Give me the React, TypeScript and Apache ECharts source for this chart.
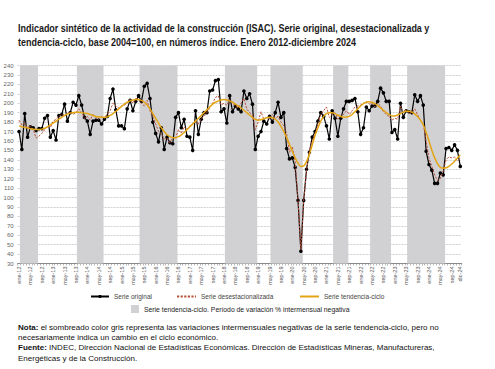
import React, { useEffect, useRef } from "react";
import * as echarts from "echarts";

const monthNames = ["ene", "feb", "mar", "abr", "may", "jun", "jul", "ago", "sep", "oct", "nov", "dic"];
const yearSuffixes = ["12", "13", "14", "15", "16", "17", "18", "19", "20", "21", "22", "23", "24"];
const categories: string[] = yearSuffixes.flatMap((y) => monthNames.map((m) => `${m}-${y}`));

// Serie original (2012-2024)
const original = [
  170, 151, 189, 164, 175, 174, 171, 173, 173, 184, 187, 164,
  171, 161, 187, 188, 199, 181, 190, 201, 198, 208, 198, 185,
  181, 167, 181, 182, 182, 178, 183, 186, 205, 215, 193, 176,
  176, 173, 194, 203, 192, 202, 208, 202, 218, 221, 205, 180,
  168, 159, 174, 151, 164, 158, 157, 185, 190, 174, 183, 165,
  164, 150, 192, 167, 183, 190, 190, 213, 214, 224, 225, 191,
  194, 179, 208, 191, 197, 194, 191, 213, 205, 210, 199, 151,
  165, 170, 181, 178, 186, 180, 190, 201, 185, 190, 152, 141,
  142, 132, 97, 43, 97, 130, 148, 164, 170, 181, 190, 186,
  176, 162, 192, 184, 165, 184, 194, 202, 202, 203, 205, 191,
  167, 174, 196, 192, 197, 197, 202, 216, 211, 202, 202, 169,
  172, 162, 200, 185, 192, 191, 190, 209, 202, 208, 198, 149,
  135, 129, 115, 115, 126, 124, 152, 153, 150, 156, 150, 133,
];

// Serie desestacionalizada
const deseasonalized = [
  182, 177, 179, 173, 176, 172, 163, 165, 168, 172, 176, 174,
  181, 183, 186, 188, 186, 189, 191, 188, 190, 194, 190, 184,
  186, 182, 188, 185, 183, 186, 184, 188, 192, 200, 197, 195,
  197, 198, 200, 204, 200, 205, 204, 200, 197, 203, 192, 186,
  178, 170, 168, 162, 163, 158, 164, 163, 172, 168, 175, 172,
  176, 178, 180, 178, 184, 186, 190, 195, 200, 206, 208, 198,
  200, 198, 204, 200, 197, 195, 200, 205, 194, 190, 188, 172,
  180, 191, 183, 185, 183, 188, 184, 186, 180, 176, 168, 148,
  154, 138, 98, 45, 98, 128, 150, 160, 168, 178, 188, 192,
  196, 185, 188, 190, 183, 186, 188, 192, 188, 192, 196, 197,
  198, 200, 202, 199, 200, 196, 200, 197, 191, 188, 186, 182,
  184, 183, 197, 190, 193, 189, 190, 194, 188, 182, 178, 160,
  142, 133, 124, 118, 120, 128, 140, 143, 142, 143, 139, 141,
];

// Serie tendencia-ciclo
const trendCycle = [
  176, 175, 174.5, 174, 173, 172.5, 172, 172, 172.5, 173.5, 175, 177,
  179, 181, 183, 185, 187, 188.5, 189.5, 190, 190.5, 190.5, 190, 189.5,
  189, 188, 187, 186, 185.5, 185, 185, 185.5, 187, 189, 191.5, 194,
  196.5, 199, 201, 202.5, 203.5, 204, 204, 203, 201, 198, 194, 189,
  184, 179, 174, 170, 166.5, 164.5, 163.5, 163.5, 164.5, 166.5, 169, 172,
  175, 178, 181, 184, 187, 190, 193, 196, 199, 201, 202.5, 203.5,
  204, 203.5, 202.5, 201, 199, 197, 195, 192.5, 190, 187.5, 185, 183,
  182, 182.5, 183.5, 184.5, 185, 184.5, 183, 180, 175.5, 170, 163.5, 156.5,
  149, 142, 136.5, 133, 133.5, 138, 146, 156, 166, 174, 181, 186,
  189, 190, 190, 189, 187.5, 186, 185.5, 185.5, 186, 188, 191, 194,
  197, 199.5, 201, 201.5, 201, 199.5, 197.5, 195, 192.5, 190, 188, 186.5,
  186.5, 187.5, 189, 190.5, 191.5, 191.5, 190.5, 188.5, 186, 182, 177, 169,
  160, 150, 142, 136, 132, 131, 131.5, 133, 135.5, 138.5, 142, 145,
];

// Períodos de variación % intermensual negativa de la tendencia-ciclo
const negativePeriods: [string, string][] = [
  ["feb-12", "jul-12"],
  ["oct-13", "jun-14"],
  ["ago-15", "ago-16"],
  ["feb-18", "dic-18"],
  ["jun-19", "abr-20"],
  ["abr-21", "ago-21"],
  ["may-22", "nov-22"],
  ["jun-23", "jun-24"],
];

const yTicks = { min: 30, max: 240, interval: 10 };

const titleLines = [
  "Indicador sintético de la actividad de la construcción (ISAC). Serie original, desestacionalizada y",
  "tendencia-ciclo, base 2004=100, en números índice. Enero 2012-diciembre 2024",
];
const noteLines = [
  "{b|Nota:} el sombreado color gris representa las variaciones intermensuales negativas de la serie tendencia-ciclo, pero no",
  "necesariamente indica un cambio en el ciclo económico.",
  "{b|Fuente:} INDEC, Dirección Nacional de Estadísticas Económicas. Dirección de Estadísticas Mineras, Manufactureras,",
  "Energéticas y de la Construcción.",
];

const NAME_ORIG = "Serie original";
const NAME_DESE = "Serie desestacionalizada";
const NAME_TREND = "Serie tendencia-ciclo";
const NAME_BAND = "Serie tendencia-ciclo. Período de variación % intermensual negativa";

export default function App() {
  const ref = useRef<HTMLDivElement>(null);
  useEffect(() => {
    if (!ref.current) return;
    const chart = echarts.init(ref.current, undefined, { renderer: "svg" });
    const shaded = new Set<number>();
    negativePeriods.forEach(([a, b]) => {
      const s = categories.indexOf(a);
      const e = categories.indexOf(b);
      for (let i = s; i <= e; i++) shaded.add(i);
    });
    const bandData = categories.map((_, i) => (shaded.has(i) ? yTicks.max : "-"));
    const sans = "Liberation Sans, Arial, sans-serif";
    const lastIdx = categories.length - 1;

    // condense the bold title horizontally (narrow face look)
    const titleFont = "bold 10.5px Liberation Sans";
    let titleScale = 0.82;
    try {
      const ctx = document.createElement("canvas").getContext("2d");
      if (ctx) {
        ctx.font = titleFont;
        const w = ctx.measureText(titleLines[0]).width;
        if (w > 0) titleScale = 412 / w;
      }
    } catch (e) {
      /* keep default */
    }

    const legendText = { fontFamily: sans, fontSize: 6.5, color: "#444" };

    chart.setOption({
      animation: false,
      backgroundColor: "#ffffff",
      grid: {
        left: 17.6,
        right: 33.3,
        top: 65.5,
        bottom: 105.5,
        containLabel: false,
        outerBoundsMode: "none",
      },
      legend: [
        {
          data: [NAME_ORIG],
          left: 90,
          top: 293,
          itemWidth: 18,
          itemHeight: 4,
          textStyle: legendText,
          padding: 0,
        },
        {
          data: [{ name: NAME_DESE, itemStyle: { opacity: 0 } }],
          left: 176,
          top: 293,
          itemWidth: 19,
          itemHeight: 4,
          textStyle: legendText,
          padding: 0,
        },
        {
          data: [{ name: NAME_TREND, itemStyle: { opacity: 0 } }],
          left: 299,
          top: 293,
          itemWidth: 19,
          itemHeight: 4,
          textStyle: legendText,
          padding: 0,
        },
        {
          data: [{ name: NAME_BAND, icon: "rect" }],
          left: 131,
          top: 305,
          itemWidth: 8,
          itemHeight: 8,
          textStyle: { fontFamily: sans, fontSize: 6.8, color: "#222" },
          padding: 0,
        },
      ],
      xAxis: {
        type: "category",
        data: categories,
        boundaryGap: true,
        axisLine: { lineStyle: { color: "#8a8a8a", width: 1 } },
        axisTick: { show: true, interval: 0, length: 2, lineStyle: { color: "#8a8a8a", width: 0.6 } },
        axisLabel: {
          rotate: 90,
          fontSize: 5.5,
          fontFamily: sans,
          color: "#555",
          margin: 3,
          hideOverlap: false,
          interval: (i: number) => i % 4 === 0 || i === lastIdx,
        },
        splitLine: { show: false },
      },
      yAxis: {
        type: "value",
        min: yTicks.min,
        max: yTicks.max,
        interval: yTicks.interval,
        axisLine: { show: false },
        axisTick: { show: false },
        axisLabel: { fontSize: 6, fontFamily: sans, color: "#666", margin: 4 },
        splitLine: { lineStyle: { color: "#c4c4c4", width: 0.8, type: [2, 1] } },
      },
      series: [
        {
          name: NAME_BAND,
          type: "bar",
          data: bandData,
          barWidth: "135%",
          barGap: "-100%",
          clip: true,
          silent: true,
          itemStyle: { color: "#d1d0d2" },
          z: 1,
        },
        {
          name: NAME_ORIG,
          type: "line",
          data: original,
          symbol: "circle",
          symbolSize: 3.6,
          showAllSymbol: true,
          itemStyle: { color: "#000" },
          lineStyle: { color: "#000", width: 1.2 },
          z: 3,
        },
        {
          name: NAME_DESE,
          type: "line",
          data: deseasonalized,
          symbol: "none",
          itemStyle: { color: "#b8503a" },
          lineStyle: { color: "#b8503a", width: 1, type: [2.2, 1.4] },
          z: 4,
        },
        {
          name: NAME_TREND,
          type: "line",
          data: trendCycle,
          symbol: "none",
          smooth: 0.3,
          itemStyle: { color: "#e3a514" },
          lineStyle: { color: "#e3a514", width: 1.5 },
          z: 5,
        },
      ],
      graphic: [
        ...titleLines.map((line, k) => ({
          type: "text",
          x: 18,
          y: 28 + k * 14,
          scaleX: titleScale,
          style: {
            text: line,
            font: titleFont,
            fill: "#1a1a1a",
            verticalAlign: "middle",
          },
        })),
        ...noteLines.map((line, k) => ({
          type: "text",
          left: 18,
          top: 323 + k * 10.4,
          style: {
            text: line,
            fontFamily: sans,
            fontSize: 8,
            fill: "#111",
            rich: { b: { fontWeight: "bold", fontFamily: sans, fontSize: 8, fill: "#111" } },
          },
        })),
      ],
    });
    return () => chart.dispose();
  }, []);
  return (
    <div
      ref={ref}
      style={{ position: "fixed", left: 0, top: 0, width: 495, height: 369, background: "#fff" }}
    />
  );
}
